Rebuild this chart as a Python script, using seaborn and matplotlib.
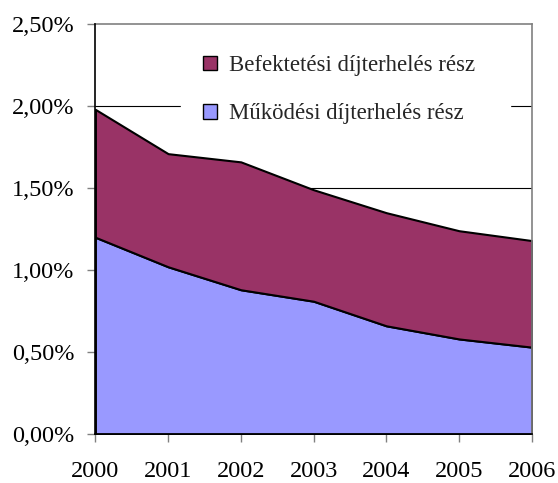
import matplotlib
matplotlib.use("Agg")
import matplotlib.pyplot as plt
import seaborn as sns
import numpy as np
from matplotlib.ticker import FuncFormatter
from matplotlib.patches import Patch

years = [2000, 2001, 2002, 2003, 2004, 2005, 2006]
mukodesi = [1.20, 1.02, 0.88, 0.81, 0.66, 0.58, 0.53]
befektetesi = [0.78, 0.69, 0.78, 0.68, 0.69, 0.66, 0.65]
label_bef = "Befektetési díjterhelés rész"
label_muk = "Működési díjterhelés rész"
yticks = [0.0, 0.5, 1.0, 1.5, 2.0, 2.5]

sns.set_style("white")
plt.rcParams['font.family'] = ['Liberation Serif', 'DejaVu Serif']

fig = plt.figure(figsize=(5.58, 4.83), dpi=100)
ax = fig.add_axes([0.171, 0.1014, 0.782, 0.8486])

for y in yticks[1:-1]:
    ax.axhline(y, color='black', lw=0.8, zorder=0)

ax.stackplot(years, mukodesi, befektetesi, colors=['#9999FF', '#993366'],
             edgecolor='black', linewidth=1.5, zorder=2)

ax.set_xlim(2000, 2006)
ax.set_ylim(0, 2.5)
ax.set_yticks(yticks)
ax.set_xticks(years)
ax.yaxis.set_major_formatter(FuncFormatter(lambda v, p: f"{v:.2f}%".replace('.', ',')))

for s in ['top', 'right']:
    ax.spines[s].set_color('#808080')
    ax.spines[s].set_linewidth(1.2)
for s in ['left', 'bottom']:
    ax.spines[s].set_color('black')
    ax.spines[s].set_linewidth(1.2)
    ax.spines[s].set_zorder(3)

ax.tick_params(axis='both', which='major', direction='out', length=6, width=1,
               color='#808080', labelsize=17.5, labelcolor='black',
               bottom=True, left=True)
ax.tick_params(axis='x', pad=13.5)
ax.tick_params(axis='y', pad=9)

handles = [Patch(facecolor='#993366', edgecolor='black', lw=1),
           Patch(facecolor='#9999FF', edgecolor='black', lw=1)]
leg = ax.legend(handles, [label_bef, label_muk], loc='upper left',
                bbox_to_anchor=(0.195, 0.98, 0.755, 0.0), mode='expand',
                frameon=True, fontsize=16.4, handlelength=0.6, handleheight=0.6,
                handletextpad=0.55, labelspacing=1.2, borderpad=1.0,
                borderaxespad=0, fancybox=False)
leg.get_frame().set_edgecolor('white')
leg.get_frame().set_facecolor('white')
leg.get_frame().set_alpha(1)
leg.set_zorder(5)

fig.savefig("out.png", dpi=100)
